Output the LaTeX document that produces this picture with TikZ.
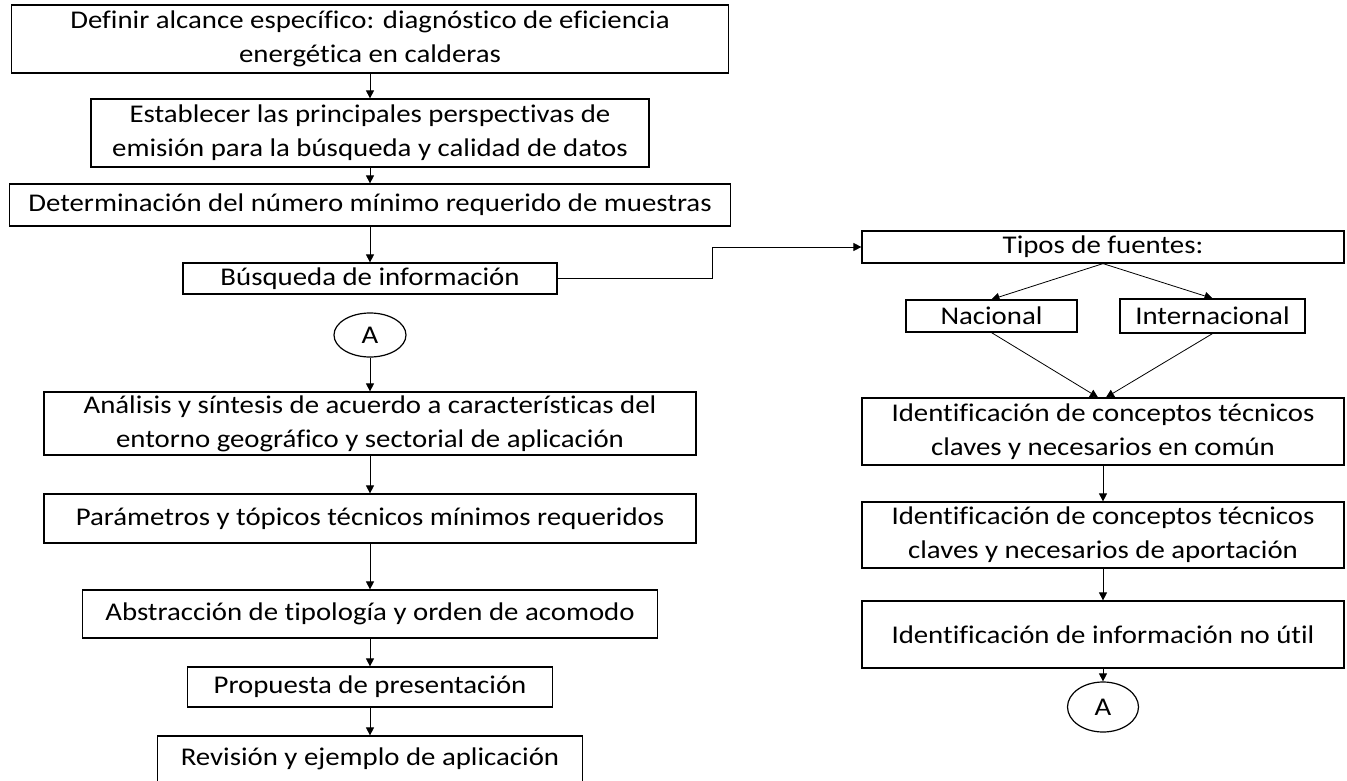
\documentclass[tikz,border=0pt]{standalone}
\usepackage{fontspec}
\setmainfont{Carlito}[FakeStretch=1.13, Ligatures=NoCommon]
\usetikzlibrary{shapes.geometric,arrows.meta}

\begin{document}
\begin{tikzpicture}[x=1pt, y=-1pt, font=\fontsize{25.5}{34}\selectfont,
      every node/.style = {shape=rectangle, draw, line width=1.2pt, align=center, inner sep=0pt},
      conn/.style = {-{Triangle[length=8pt, width=8pt]}, line width=0.8pt}]
    \useasboundingbox (0,0) rectangle (1347,781);
    \node[minimum width=717, minimum height=68] (def) at (370,39) {Definir alcance específico: diagnóstico de eficiencia\\energética en calderas};
    \node[minimum width=558, minimum height=68] (est) at (370,133) {Establecer las principales perspectivas de\\emisión para la búsqueda y calidad de datos};
    \node[minimum width=721, minimum height=42] (det) at (370,205) {Determinación del número mínimo requerido de muestras};
    \node[minimum width=374, minimum height=31] (bus) at (370,278.5) {Búsqueda de información};
    \node[shape=ellipse, minimum width=72, minimum height=44] (a1) at (370,335) {A};
    \node[minimum width=652, minimum height=63] (ana) at (370,423.5) {Análisis y síntesis de acuerdo a características del\\entorno geográfico y sectorial de aplicación};
    \node[minimum width=652, minimum height=49] (par) at (370,518.5) {Parámetros y tópicos técnicos mínimos requeridos};
    \node[minimum width=575, minimum height=48] (abs) at (370,614) {Abstracción de tipología y orden de acomodo};
    \node[minimum width=365, minimum height=40] (pro) at (370,687) {Propuesta de presentación};
    \node[minimum width=425, minimum height=46] (rev) at (370,759) {Revisión y ejemplo de aplicación};
    % fuentes
    \node[minimum width=482, minimum height=32] (tip) at (1103,247) {Tipos de fuentes:};
    \node[minimum width=171, minimum height=32] (nac) at (991.5,316) {Nacional};
    \node[minimum width=185, minimum height=34] (int) at (1212.5,316) {Internacional};
    \node[minimum width=482, minimum height=67] (id1) at (1103,431.5) {Identificación de conceptos técnicos\\claves y necesarios en común};
    \node[minimum width=482, minimum height=66] (id2) at (1103,535) {Identificación de conceptos técnicos\\claves y necesarios de aportación};
    \node[minimum width=482, minimum height=67] (id3) at (1103,634.5) {Identificación de información no útil};
    \node[shape=ellipse, minimum width=71, minimum height=50] (a2) at (1103,707) {A};
    % flechas
    \draw[conn] (def) -- (est);
    \draw[conn] (est) -- (det);
    \draw[conn] (det) -- (bus);
    \draw[conn] (a1) -- (ana);
    \draw[conn] (ana) -- (par);
    \draw[conn] (par) -- (abs);
    \draw[conn] (abs) -- (pro);
    \draw[conn] (pro) -- (rev);
    \draw[conn] (bus.east) -- ++(155,0) |- (tip.west);
    \draw[conn] (tip.south) -- (nac.north);
    \draw[conn] (tip.south) -- (int.north);
    \draw[conn] (nac.south) -- ([xshift=-5pt]id1.north);
    \draw[conn] (int.south) -- ([xshift=3pt]id1.north);
    \draw[conn] (id1) -- (id2);
    \draw[conn] (id2) -- (id3);
    \draw[conn] (id3) -- (a2);
\end{tikzpicture}
\end{document}
